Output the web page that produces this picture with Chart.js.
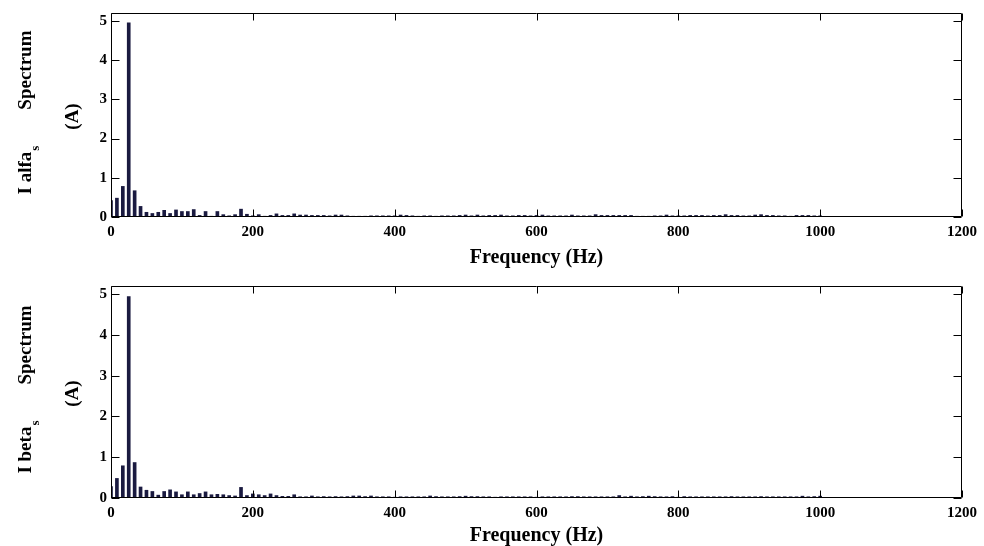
<!DOCTYPE html>
<html>
<head>
<meta charset="utf-8">
<script src="https://cdn.jsdelivr.net/npm/chart.js@4/dist/chart.umd.min.js"></script>
<style>
  html,body{margin:0;padding:0;background:#fff;}
  .wrap{position:absolute;left:0;width:984px;height:273px;}
</style>
</head>
<body>
<div class="wrap" style="top:0"><canvas id="alfaChart" width="984" height="273"></canvas></div>
<div class="wrap" style="top:273px"><canvas id="betaChart" width="984" height="273"></canvas></div>
<script>
(function(){
  // harmonics every 25/3 Hz, 0 .. 1000 Hz
  const FREQ_STEP = 25 / 3;
  const xTicks = [0, 200, 400, 600, 800, 1000, 1200];
  const yTicks = [0, 1, 2, 3, 4, 5];

  const alfaVals = [
    0.42, 0.48, 0.78, 4.95, 0.67, 0.27, 0.12, 0.09, 0.12, 0.17,
    0.09, 0.18, 0.14, 0.14, 0.19, 0.04, 0.14, 0.02, 0.14, 0.06,
    0.03, 0.06, 0.20, 0.07, 0.03, 0.06, 0.02, 0.04, 0.08, 0.04,
    0.04, 0.08, 0.05, 0.05, 0.04, 0.04, 0.04, 0.03, 0.05, 0.05,
    0.03, 0.02, 0.02, 0.02, 0.03, 0.03, 0.03, 0.03, 0.03, 0.05,
    0.04, 0.03, 0.02, 0.03, 0.03, 0.02, 0.03, 0.03, 0.03, 0.04,
    0.05, 0.03, 0.05, 0.03, 0.04, 0.04, 0.05, 0.03, 0.03, 0.04,
    0.04, 0.03, 0.04, 0.05, 0.03, 0.03, 0.03, 0.03, 0.05, 0.03,
    0.03, 0.03, 0.06, 0.04, 0.04, 0.04, 0.04, 0.04, 0.04, 0.02,
    0.02, 0.02, 0.03, 0.03, 0.05, 0.03, 0.03, 0.03, 0.04, 0.04,
    0.04, 0.03, 0.04, 0.04, 0.06, 0.04, 0.04, 0.03, 0.03, 0.05,
    0.06, 0.04, 0.04, 0.03, 0.03, 0.02, 0.04, 0.04, 0.04, 0.03,
    0.03
  ];

  const betaVals = [
    0.28, 0.48, 0.79, 4.94, 0.87, 0.27, 0.19, 0.16, 0.07, 0.16,
    0.20, 0.15, 0.08, 0.15, 0.08, 0.11, 0.15, 0.08, 0.09, 0.08,
    0.06, 0.05, 0.26, 0.06, 0.10, 0.08, 0.06, 0.10, 0.06, 0.04,
    0.04, 0.08, 0.03, 0.03, 0.05, 0.03, 0.035, 0.03, 0.035, 0.03,
    0.035, 0.05, 0.05, 0.035, 0.05, 0.03, 0.03, 0.03, 0.02, 0.03,
    0.03, 0.03, 0.03, 0.03, 0.05, 0.035, 0.03, 0.03, 0.03, 0.035,
    0.045, 0.035, 0.035, 0.03, 0.03, 0.02, 0.03, 0.03, 0.03, 0.03,
    0.03, 0.03, 0.02, 0.03, 0.03, 0.03, 0.03, 0.03, 0.035, 0.035,
    0.03, 0.03, 0.03, 0.03, 0.03, 0.03, 0.06, 0.03, 0.045, 0.03,
    0.035, 0.045, 0.035, 0.03, 0.03, 0.035, 0.02, 0.035, 0.03, 0.03,
    0.03, 0.03, 0.03, 0.03, 0.03, 0.035, 0.03, 0.03, 0.03, 0.03,
    0.035, 0.03, 0.03, 0.03, 0.03, 0.03, 0.03, 0.045, 0.03, 0.035,
    0.045
  ];

  const SERIF = '"Liberation Serif", "Times New Roman", serif';
  const BAR = '#1a1a40';

  // box + inward ticks on all four sides (matlab style)
  const frame = {
    id: 'frame',
    afterDatasetsDraw(chart){
      const {ctx, chartArea:a, scales:{x, y}} = chart;
      const L = Math.round(a.left)+.5, R = Math.round(a.right)-.5;
      const T = Math.round(a.top)+.5, B = Math.round(a.bottom)-.5;
      ctx.save();
      ctx.strokeStyle = '#000'; ctx.lineWidth = 1;
      ctx.beginPath();
      ctx.rect(L, T, R-L, B-T);
      xTicks.forEach(v=>{
        const px = Math.round(x.getPixelForValue(v))+.5;
        ctx.moveTo(px, B); ctx.lineTo(px, B-7);
        ctx.moveTo(px, T); ctx.lineTo(px, T+7);
      });
      yTicks.forEach(v=>{
        const py = Math.round(y.getPixelForValue(v))+.5;
        ctx.moveTo(L, py); ctx.lineTo(L+8, py);
        ctx.moveTo(R, py); ctx.lineTo(R-8, py);
      });
      ctx.stroke();
      ctx.restore();
    }
  };

  // rotated y label with a subscript: "I alfa_s  Spectrum" / "(A)"
  const ytitle = {
    id: 'ytitle',
    afterDraw(chart, args, o){
      const {ctx, chartArea:a} = chart;
      const mid = (a.top + a.bottom) / 2;
      const big = 'bold 19px ' + SERIF, small = 'bold 13px ' + SERIF;
      ctx.save();
      ctx.fillStyle = '#000';
      ctx.textBaseline = 'alphabetic';
      ctx.font = big;
      const w1 = ctx.measureText(o.main).width;
      const w3 = ctx.measureText(o.rest).width;
      ctx.font = small;
      const ws = ctx.measureText(o.sub).width;
      const gap = 36;
      const len = w1 + 1 + ws + gap + w3;
      ctx.translate(31, mid - 2.5);
      ctx.rotate(-Math.PI/2);
      let u = -len/2;
      ctx.textAlign = 'left';
      ctx.font = big; ctx.fillText(o.main, u, 0); u += w1 + 1;
      ctx.font = small; ctx.fillText(o.sub, u, 8); u += ws + gap;
      ctx.font = big; ctx.fillText(o.rest, u, 0);
      ctx.restore();

      ctx.save();
      ctx.fillStyle = '#000';
      ctx.font = big; ctx.textAlign = 'center'; ctx.textBaseline = 'alphabetic';
      ctx.translate(78, mid + 1.5);
      ctx.rotate(-Math.PI/2);
      ctx.fillText(o.unit, 0, 0);
      ctx.restore();
    }
  };

  function makeChart(id, vals, label, axisH, padBottom, titlePad){
    const data = vals.map((v,i)=>({x: i*FREQ_STEP, y: v}));
    return new Chart(document.getElementById(id), {
      type: 'bar',
      data: { datasets: [{ data, backgroundColor: BAR, borderWidth: 0, barThickness: 3 }] },
      options: {
        responsive: false,
        animation: false,
        layout: { padding: { top: 12, right: 22, bottom: padBottom, left: 0 } },
        plugins: { legend: { display: false }, tooltip: { enabled: false }, ytitle: label },
        scales: {
          x: {
            type: 'linear', min: 0, max: 1200, offset: false,
            grid: { display: false, drawTicks: false }, border: { display: false },
            afterFit(s){ s.height = axisH; },
            afterBuildTicks(s){ s.ticks = xTicks.map(v=>({value:v})); },
            ticks: { color: '#000', padding: 6, maxRotation: 0, callback: v => String(v),
                     font: { family: SERIF, size: 15, weight: 'bold' } },
            title: { display: true, text: 'Frequency (Hz)', color: '#000', padding: { top: 0, bottom: titlePad },
                     font: { family: SERIF, size: 20, weight: 'bold' } }
          },
          y: {
            min: 0, max: 5.2,
            grid: { display: false, drawTicks: false }, border: { display: false },
            afterFit(s){ s.width = 111; },
            afterBuildTicks(s){ s.ticks = yTicks.map(v=>({value:v})); },
            ticks: { color: '#000', padding: 4, callback: v => String(v),
                     font: { family: SERIF, size: 15, weight: 'bold' } }
          }
        }
      },
      plugins: [frame, ytitle]
    });
  }

  makeChart('alfaChart', alfaVals, { main: 'I alfa', sub: 's', rest: 'Spectrum', unit: '(A)' }, 53, 3, 0);
  makeChart('betaChart', betaVals, { main: 'I beta', sub: 's', rest: 'Spectrum', unit: '(A)' }, 48, 0, -2);
})();
</script>
</body>
</html>
